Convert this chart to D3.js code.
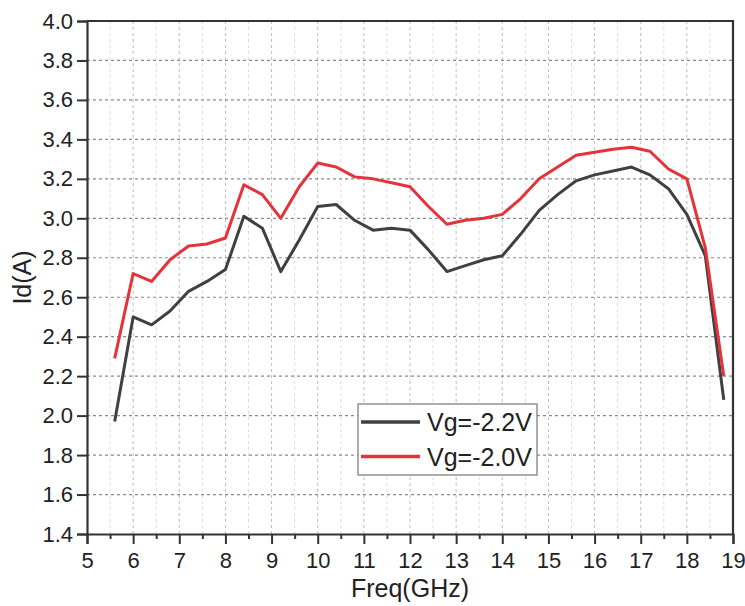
<!DOCTYPE html>
<html>
<head>
<meta charset="utf-8">
<script src="https://cdn.jsdelivr.net/npm/d3@7"></script>
<style>
  html, body { margin: 0; padding: 0; background: #fff; }
  svg { display: block; }
  text { font-family: "Liberation Sans", Arial, sans-serif; fill: #222; }
</style>
</head>
<body>
<svg id="chart" width="745" height="606"></svg>
<script>
const freq = [5.6, 6.0, 6.4, 6.8, 7.2, 7.6, 8.0, 8.4, 8.8, 9.2, 9.6, 10.0, 10.4, 10.8, 11.2, 11.6, 12.0, 12.4, 12.8, 13.2, 13.6, 14.0, 14.4, 14.8, 15.2, 15.6, 16.0, 16.4, 16.8, 17.2, 17.6, 18.0, 18.4, 18.8];
const idVg22 = [1.97, 2.50, 2.46, 2.53, 2.63, 2.68, 2.74, 3.01, 2.95, 2.73, 2.89, 3.06, 3.07, 2.99, 2.94, 2.95, 2.94, 2.84, 2.73, 2.76, 2.79, 2.81, 2.92, 3.04, 3.12, 3.19, 3.22, 3.24, 3.26, 3.22, 3.15, 3.02, 2.81, 2.08];
const idVg20 = [2.29, 2.72, 2.68, 2.79, 2.86, 2.87, 2.90, 3.17, 3.12, 3.00, 3.16, 3.28, 3.26, 3.21, 3.20, 3.18, 3.16, 3.06, 2.97, 2.99, 3.00, 3.02, 3.10, 3.20, 3.26, 3.32, 3.335, 3.35, 3.36, 3.34, 3.25, 3.20, 2.85, 2.20];
const seriesNames = ["Vg=-2.2V", "Vg=-2.0V"];
const seriesColors = ["#404040", "#e5323b"];
const xTicks = [5, 6, 7, 8, 9, 10, 11, 12, 13, 14, 15, 16, 17, 18, 19];
const xMinorTicks = [5.5, 6.5, 7.5, 8.5, 9.5, 10.5, 11.5, 12.5, 13.5, 14.5, 15.5, 16.5, 17.5, 18.5];
const yTicks = [1.4, 1.6, 1.8, 2.0, 2.2, 2.4, 2.6, 2.8, 3.0, 3.2, 3.4, 3.6, 3.8, 4.0];
const xLabel = "Freq(GHz)";
const yLabel = "Id(A)";

const svg = d3.select("#chart");
const L = 87, T = 21, R = 733, B = 534;
const x = d3.scaleLinear().domain([5, 19]).range([L, R]);
const y = d3.scaleLinear().domain([1.4, 4.0]).range([B, T]);

// grid
const g = svg.append("g");
g.selectAll(".vminor").data(xMinorTicks).join("line")
  .attr("x1", d => x(d)).attr("x2", d => x(d)).attr("y1", T).attr("y2", B)
  .attr("stroke", "#dcdcdc").attr("stroke-width", 1).attr("stroke-dasharray", "3,3");
g.selectAll(".vmajor").data(xTicks.slice(1, -1)).join("line")
  .attr("x1", d => x(d)).attr("x2", d => x(d)).attr("y1", T).attr("y2", B)
  .attr("stroke", "#bdbdbd").attr("stroke-width", 1).attr("stroke-dasharray", "3,3");
g.selectAll(".hmajor").data(yTicks.slice(1, -1)).join("line")
  .attr("x1", L).attr("x2", R).attr("y1", d => y(d)).attr("y2", d => y(d))
  .attr("stroke", "#8a8a8a").attr("stroke-width", 1.2).attr("stroke-dasharray", "3,3");

// lines
const series = [idVg22, idVg20];
const line = d3.line().x((d, i) => x(freq[i])).y(d => y(d));
series.forEach((s, k) => {
  svg.append("path").datum(s).attr("d", line)
    .attr("fill", "none").attr("stroke", seriesColors[k]).attr("stroke-width", 3)
    .attr("stroke-linejoin", "round");
});

// axes
const axisColor = "#333";
const xAxis = svg.append("g").attr("transform", `translate(0,${B})`)
  .call(d3.axisBottom(x).tickValues(xTicks).tickSize(10).tickFormat(d3.format("d")));
const xMinor = svg.append("g").attr("transform", `translate(0,${B})`)
  .call(d3.axisBottom(x).tickValues(xMinorTicks).tickSize(5).tickFormat(""));
xMinor.select(".domain").remove();
const yAxis = svg.append("g").attr("transform", `translate(${L},0)`)
  .call(d3.axisLeft(y).tickValues(yTicks).tickSize(10).tickFormat(d3.format(".1f")));
[xAxis, xMinor, yAxis].forEach(a => {
  a.selectAll(".domain").attr("stroke", axisColor).attr("stroke-width", 2.2);
  a.selectAll(".tick line").attr("stroke", axisColor).attr("stroke-width", 2);
});
xAxis.selectAll(".tick text").attr("font-size", 22).attr("fill", "#222")
  .attr("font-family", "Liberation Sans, Arial, sans-serif").attr("y", 18).attr("dy", "0.71em");
yAxis.selectAll(".tick text").attr("font-size", 22).attr("fill", "#222")
  .attr("font-family", "Liberation Sans, Arial, sans-serif").attr("x", -14);
// frame top/right
svg.append("line").attr("x1", L).attr("x2", R).attr("y1", T).attr("y2", T)
  .attr("stroke", axisColor).attr("stroke-width", 2.2);
svg.append("line").attr("x1", R).attr("x2", R).attr("y1", T - 1).attr("y2", B + 1)
  .attr("stroke", axisColor).attr("stroke-width", 2.2);

// axis labels
svg.append("text").attr("x", (L + R) / 2 + 0).attr("y", 597)
  .attr("text-anchor", "middle").attr("font-size", 25).text(xLabel);
svg.append("text").attr("transform", `translate(31,${(T + B) / 2}) rotate(-90)`)
  .attr("text-anchor", "middle").attr("font-size", 25).text(yLabel);

// legend
const lg = svg.append("g");
lg.append("rect").attr("x", 358).attr("y", 404).attr("width", 179).attr("height", 71)
  .attr("fill", "#fff").attr("stroke", "#777").attr("stroke-width", 1.2);
seriesNames.forEach((n, k) => {
  const yy = 422 + k * 34.5;
  lg.append("line").attr("x1", 361).attr("x2", 420).attr("y1", yy).attr("y2", yy)
    .attr("stroke", seriesColors[k]).attr("stroke-width", 3.5);
  lg.append("text").attr("x", 427).attr("y", yy).attr("dy", "0.36em")
    .attr("font-size", 25).text(n);
});
</script>
</body>
</html>
